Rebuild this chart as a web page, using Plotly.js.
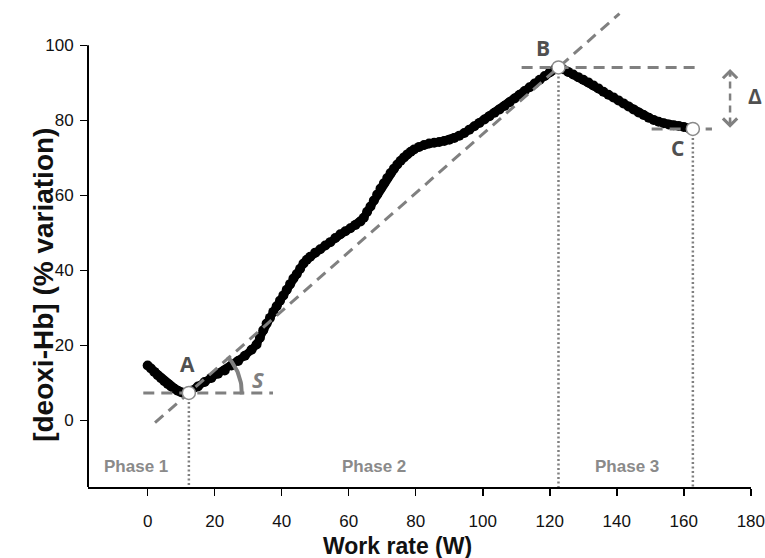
<!DOCTYPE html>
<html>
<head>
<meta charset="utf-8">
<script src="https://cdn.plot.ly/plotly-3.0.1.min.js"></script>
<style>html,body{margin:0;padding:0;background:#fff;}#chart{width:765px;height:558px;}</style>
</head>
<body>
<div id="chart"></div>
<script>
// ---- data ----
const workRate = [0,1,2,3,4,5,6,7,8,9,10,11,12.3,13,15,17,19,21,23,25,27,29,31,32.5,33.5,34.5,35.5,36.5,37.5,38.5,39.5,40.5,41.5,42.5,43.5,44.5,45.5,46.5,47.5,48.5,50,51.5,53,54.5,56,57.5,59,60.5,62,63.5,64.5,65.5,66.5,67.5,68.5,69.5,70.5,71.5,72.5,73.5,74.5,75.5,76.5,77.5,78.5,79.5,81,82.5,84,85.5,87,88.5,90,91.5,93,94.5,96,97.5,99,100.5,102,103.5,105,106.5,108,109.5,111,112.5,114,115.5,117,118.5,120,121.5,122.6,124,125.5,127,128.5,130,131.5,133,134.5,136,137.5,139,140.5,142,143.5,145,146.5,148,149.5,151,152.5,154,155.5,157,158.5,160,161.5,162.7];
const deoxiHb = [14.6,13.8,12.9,12.0,11.2,10.4,9.7,9.0,8.4,7.9,7.5,7.2,7.3,7.9,9.0,10.2,11.3,12.4,13.3,14.6,15.8,17.2,18.8,20.2,22.0,24.0,25.8,27.3,28.9,30.4,31.9,33.3,34.8,36.3,37.8,39.0,40.4,41.8,42.8,43.6,44.7,45.6,46.6,47.5,48.6,49.6,50.4,51.2,52.1,53.0,54.0,55.6,57.0,58.6,60.2,61.8,63.2,64.6,65.9,67.1,68.2,69.2,70.1,70.9,71.6,72.2,72.9,73.4,73.8,74.0,74.2,74.5,74.8,75.3,75.9,76.6,77.5,78.4,79.3,80.2,81.1,82.0,82.9,83.8,84.8,85.8,86.8,87.8,88.8,89.8,90.8,91.8,92.8,93.6,94.1,93.6,92.9,92.2,91.5,90.8,90.1,89.3,88.5,87.6,86.8,86.1,85.3,84.5,83.7,82.9,82.1,81.4,80.7,80.1,79.6,79.2,78.9,78.7,78.5,78.2,77.9,77.7];

const keyLabels = ['A', 'B', 'C'];
const keyX = [12.3, 122.6, 162.7];
const keyY = [7.3, 94.1, 77.7];
const keyLabelX = [12.0, 118.0, 158.0];
const keyLabelY = [15.1, 99.4, 72.7];
const levelX0 = [-1.3, 111.6, 150.4];
const levelX1 = [37.4, 164.3, 168.4];
const slopeLineX = [2.2, 140.8];
const deltaX = 173.8;
const deltaLabelX = 181.2;
const deltaLabelY = 86.6;

const phaseLabels = ['Phase 1', 'Phase 2', 'Phase 3'];
const phaseX = [-3.5, 67.6, 143.0];
const phaseY = -12.3;

const xTicks = [0, 20, 40, 60, 80, 100, 120, 140, 160, 180];
const yTicks = [0, 20, 40, 60, 80, 100];
const xRange = [-17.8, 180.05];
const yRange = [-17.8, 111.8];

// ---- layout constants ----
const W = 765, H = 558;
const M = {l: 88, r: 14, t: 1, b: 71};
const kx = (W - M.l - M.r) / (xRange[1] - xRange[0]);
const ky = (H - M.t - M.b) / (yRange[1] - yRange[0]);
const grey = '#808080';
const dark = '#505050';

// slope line through A and B
const slope = (keyY[1] - keyY[0]) / (keyX[1] - keyX[0]);
const slopeLineY = slopeLineX.map(x => keyY[0] + (x - keyX[0]) * slope);

// horizontal level lines
const hx = [], hy = [];
for (let i = 0; i < keyX.length; i++) { hx.push(levelX0[i], levelX1[i], null); hy.push(keyY[i], keyY[i], null); }
// vertical dotted drop lines
const vx = [], vy = [];
for (let i = 0; i < keyX.length; i++) { vx.push(keyX[i], keyX[i], null); vy.push(keyY[i], yRange[0], null); }

// angle arc S around A (circular in screen pixels)
const theta = Math.atan(slope * ky / kx);
const rPx = 53;
const arcX = [], arcY = [];
for (let i = 0; i <= 24; i++) {
  const t = -0.03 + (theta + 0.06) * i / 24;
  arcX.push(keyX[0] + rPx * Math.cos(t) / kx);
  arcY.push(keyY[0] + rPx * Math.sin(t) / ky);
}

const traces = [
  {x: workRate, y: deoxiHb, mode: 'lines+markers', type: 'scatter',
   line: {color: '#000', width: 8}, marker: {color: '#000', size: 10}, hoverinfo: 'skip'},
  {x: slopeLineX, y: slopeLineY, mode: 'lines', line: {color: grey, width: 3, dash: '11px,7px'}},
  {x: hx, y: hy, mode: 'lines', line: {color: grey, width: 3, dash: '11px,7px'}},
  {x: vx, y: vy, mode: 'lines', line: {color: grey, width: 2.5, dash: '2px,2.5px'}},
  {x: [deltaX, deltaX], y: [keyY[2] + 1.2, keyY[1] - 1.2], mode: 'lines', line: {color: grey, width: 2.5, dash: '7px,5px'}},
  {x: arcX, y: arcY, mode: 'lines', line: {color: grey, width: 4}},
  {x: keyX, y: keyY, mode: 'markers', marker: {color: '#fff', size: 13, line: {color: '#8a8a8a', width: 1.5}}}
];

const annotations = [];
for (let i = 0; i < keyLabels.length; i++) {
  annotations.push({x: keyLabelX[i], y: keyLabelY[i], xref: 'x', yref: 'y', text: '<b>' + keyLabels[i] + '</b>', showarrow: false,
    font: {family: 'Open Sans', size: 21, color: dark}});
}
annotations.push({x: 33, y: 10.9, xref: 'x', yref: 'y', text: '<b><i>S</i></b>', showarrow: false,
  font: {family: 'Open Sans', size: 22, color: grey}});
// Δ label sits just right of the plot edge: anchor at the axis end and shift in pixels
annotations.push({x: xRange[1] - 0.05, y: deltaLabelY, xref: 'x', yref: 'y', xshift: (deltaLabelX - (xRange[1] - 0.05)) * kx,
  text: '<b>Δ</b>', showarrow: false, font: {family: 'Open Sans', size: 21, color: dark}});
// arrow heads of Δ
annotations.push({x: deltaX, y: keyY[1] - 0.4, xref: 'x', yref: 'y', ax: 0, ay: 9, text: '', showarrow: true,
  arrowhead: 4, arrowsize: 1.1, arrowwidth: 2.5, arrowcolor: grey, standoff: 0});
annotations.push({x: deltaX, y: keyY[2] + 0.3, xref: 'x', yref: 'y', ax: 0, ay: -9, text: '', showarrow: true,
  arrowhead: 4, arrowsize: 1.1, arrowwidth: 2.5, arrowcolor: grey, standoff: 0});
for (let i = 0; i < phaseLabels.length; i++) {
  annotations.push({x: phaseX[i], y: phaseY, xref: 'x', yref: 'y', text: '<b>' + phaseLabels[i] + '</b>', showarrow: false,
    font: {family: 'Liberation Sans', size: 17, color: '#8a8a8a'}});
}
// axis titles
annotations.push({x: 74.7, xref: 'x', y: -0.121, yref: 'paper', text: '<b>Work rate (W)</b>', showarrow: false,
  yanchor: 'middle', font: {family: 'Liberation Sans', size: 23, color: '#111'}});
annotations.push({x: 0, xref: 'paper', xshift: -62, y: 0.415, yref: 'paper', text: '<b>[deoxi-Hb] (% variation)</b>', showarrow: false,
  textangle: -90, font: {family: 'Liberation Sans', size: 28, color: '#111'}});

const layout = {
  width: W, height: H,
  margin: M,
  paper_bgcolor: '#fff', plot_bgcolor: '#fff',
  showlegend: false,
  font: {family: 'Liberation Sans', color: '#111'},
  xaxis: {range: xRange, tickvals: xTicks, ticktext: xTicks.map(String), ticks: 'outside', ticklen: 7, tickwidth: 1.5,
    tickcolor: '#000', showline: true, linecolor: '#000', linewidth: 2, showgrid: false, zeroline: false,
    ticklabelstandoff: 11, ticklabeloverflow: 'allow',
    tickfont: {family: 'Liberation Sans', size: 17, color: '#111'}, fixedrange: true},
  yaxis: {range: yRange, tickvals: yTicks, ticktext: yTicks.map(String), ticks: 'outside', ticklen: 7, tickwidth: 1.5,
    tickcolor: '#000', showline: false, showgrid: false, zeroline: false,
    ticklabelstandoff: 3, ticklabeloverflow: 'allow',
    tickfont: {family: 'Liberation Sans', size: 17, color: '#111'}, fixedrange: true},
  shapes: [{type: 'line', xref: 'paper', yref: 'y', x0: 0, x1: 0, y0: yRange[0], y1: yTicks[yTicks.length - 1],
    line: {color: '#000', width: 2}}],
  annotations: annotations
};

Plotly.newPlot('chart', traces, layout, {displayModeBar: false, staticPlot: true});
</script>
</body>
</html>
